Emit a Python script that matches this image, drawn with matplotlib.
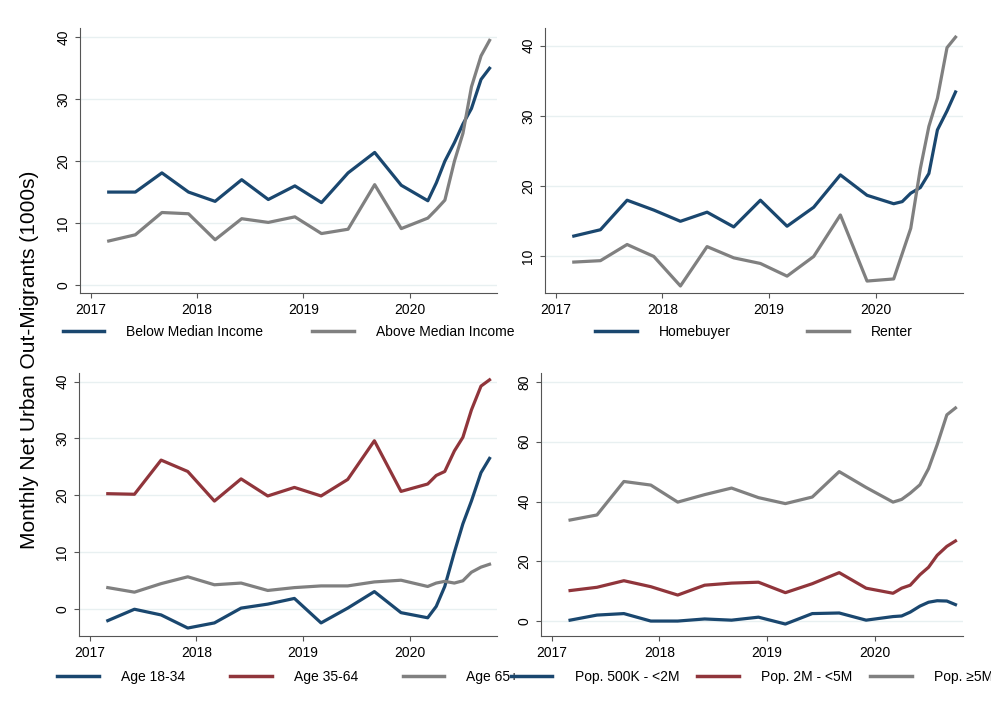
import numpy as np
import matplotlib.pyplot as plt
from matplotlib.lines import Line2D

# time points: quarterly 2017-2019, monthly during 2020
years = [2017.17, 2017.42, 2017.67, 2017.92, 2018.17, 2018.42, 2018.67, 2018.92,
         2019.17, 2019.42, 2019.67, 2019.92,
         2020.17, 2020.25, 2020.33, 2020.42, 2020.50, 2020.58, 2020.67, 2020.75]

below_median = [15, 15, 18.1, 15, 13.5, 17, 13.8, 16, 13.3, 18.1, 21.4, 16.1,
                13.6, 16.5, 20, 23, 26, 28.5, 33.2, 35]
above_median = [7.1, 8.1, 11.7, 11.5, 7.3, 10.7, 10.1, 11, 8.3, 9, 16.2, 9.1,
                10.8, 12.2, 13.7, 20, 24.5, 32, 37, 39.5]

homebuyer = [12.9, 13.8, 18, 16.6, 15, 16.3, 14.2, 18, 14.3, 17, 21.6, 18.7,
             17.5, 17.8, 19, 19.8, 21.8, 28, 30.7, 33.4]
renter = [9.2, 9.4, 11.7, 10, 5.8, 11.4, 9.8, 9, 7.2, 10, 15.9, 6.5,
          6.8, 10.4, 14, 22.5, 28.5, 32.5, 39.7, 41.2]

age_18_34 = [-2, 0, -1, -3.3, -2.4, 0.2, 0.9, 1.9, -2.4, 0.2, 3.1, -0.6,
             -1.5, 0.5, 4, 10, 15, 19, 24, 26.5]
age_35_64 = [20.3, 20.2, 26.2, 24.2, 19, 22.9, 19.9, 21.4, 19.9, 22.8, 29.6, 20.7,
             22, 23.5, 24.2, 27.8, 30.2, 35, 39.2, 40.3]
age_65 = [3.8, 3, 4.5, 5.7, 4.3, 4.6, 3.3, 3.8, 4.1, 4.1, 4.8, 5.1,
          4, 4.6, 4.9, 4.6, 5, 6.5, 7.4, 7.9]

pop_small = [0.3, 2, 2.5, 0, 0, 0.7, 0.3, 1.3, -1, 2.5, 2.7, 0.3,
             1.5, 1.7, 3, 5, 6.3, 6.8, 6.7, 5.5]
pop_mid = [10.2, 11.3, 13.5, 11.5, 8.7, 12, 12.7, 13, 9.5, 12.5, 16.2, 11,
           9.3, 11, 12, 15.5, 18, 22, 25, 26.8]
pop_large = [33.8, 35.5, 46.7, 45.5, 39.8, 42.3, 44.5, 41.3, 39.3, 41.5, 50, 44.7,
             39.8, 40.7, 42.8, 45.6, 51, 59, 69, 71.3]

NAVY, MAROON, GRAY = '#1a476f', '#90353b', '#808080'
GRID = '#e8f0f1'

plt.rcParams['font.family'] = ['Liberation Sans', 'DejaVu Sans']

W, H = 991, 721
fig = plt.figure(figsize=(W / 100, H / 100), dpi=100)


def px_axes(l, t, r, b):
    return fig.add_axes([l / W, 1 - b / H, (r - l) / W, (b - t) / H])


panels = [
    ((80, 28, 497, 293), 332, [(below_median, NAVY, 'Below Median Income'),
                               (above_median, GRAY, 'Above Median Income')],
     (-1.3, 41.5), [0, 10, 20, 30, 40], 3.5),
    ((545, 28, 963, 293), 332, [(homebuyer, NAVY, 'Homebuyer'), (renter, GRAY, 'Renter')],
     (4.8, 42.5), [10, 20, 30, 40], 5.5),
    ((79, 373, 497, 636), 677, [(age_18_34, NAVY, 'Age 18-34'), (age_35_64, MAROON, 'Age 35-64'),
                                (age_65, GRAY, 'Age 65+')],
     (-4.7, 41.5), [0, 10, 20, 30, 40], 3.2),
    ((541, 373, 963, 636), 677, [(pop_small, NAVY, 'Pop. 500K - <2M'), (pop_mid, MAROON, 'Pop. 2M - <5M'),
                                 (pop_large, GRAY, 'Pop. \u22655M')],
     (-5, 83), [0, 20, 40, 60, 80], 1.3),
]

for box, leg_y, series, ylim, yticks, colsp in panels:
    ax = px_axes(*box)
    for vals, col, lab in series:
        ax.plot(years, vals, color=col, lw=2.3, label=lab)
    ax.set_ylim(*ylim)
    ax.set_xlim(2016.9, 2020.82)
    ax.set_yticks(yticks)
    ax.set_xticks([2017, 2018, 2019, 2020])
    ax.grid(axis='y', color=GRID, lw=1)
    ax.set_axisbelow(True)
    for s in ['top', 'right']:
        ax.spines[s].set_visible(False)
    for s in ['left', 'bottom']:
        ax.spines[s].set_color('#555555')
    ax.tick_params(colors='#555555', labelcolor='black', labelsize=10)
    plt.setp(ax.get_yticklabels(), rotation=90, va='center')
    l, t, r, b = box
    handles = [Line2D([], [], color=c, lw=2.5) for _, c, _ in series]
    fig.legend(handles, [lab for _, _, lab in series], loc='center',
               bbox_to_anchor=(((l + r) / 2) / W, 1 - leg_y / H), ncol=len(series),
               frameon=False, fontsize=10, handlelength=3.0, columnspacing=colsp,
               handletextpad=1.6)

fig.text(30 / W, 1 - 360 / H, 'Monthly Net Urban Out-Migrants (1000s)', rotation=90,
         ha='center', va='center', fontsize=15)

fig.savefig('out.png', dpi=100, facecolor='white')
